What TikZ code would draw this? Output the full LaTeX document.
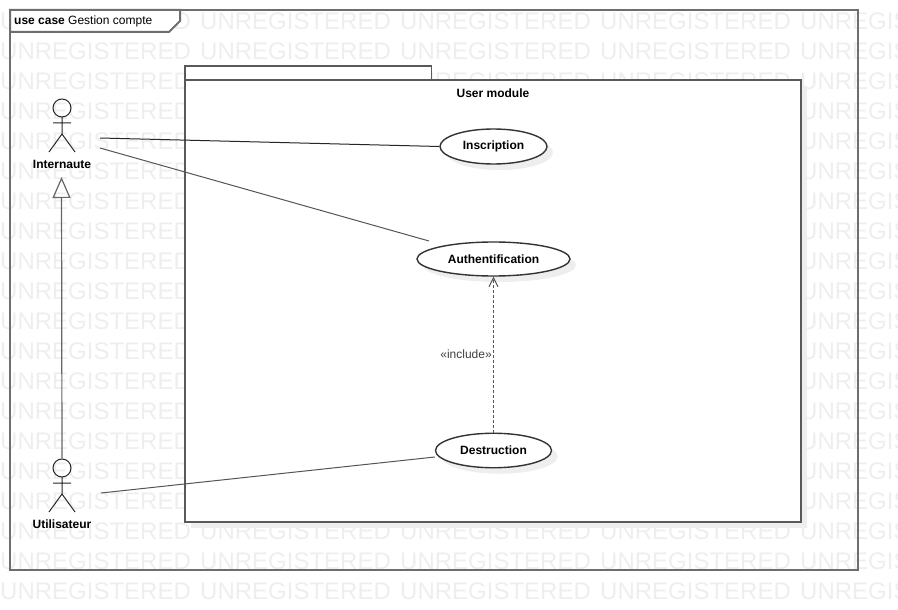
\documentclass[tikz,border=0pt]{standalone}
\usepackage{fontspec}
\setmainfont{Liberation Sans}
\usetikzlibrary{arrows.meta, shapes.geometric, shadows}
\definecolor{wmgray}{HTML}{EEEEEE}
\definecolor{fragray}{HTML}{6E6E6E}
\definecolor{lingray}{HTML}{555555}
\tikzset{%
    wat/.style={text=wmgray, font=\fontsize{24}{24}\selectfont, inner sep=0pt, anchor=west},
    fra/.style={line width=2pt, draw=fragray},
    lbl/.style={font=\fontsize{12}{14}\selectfont, inner sep=1pt},
    bol/.style={lbl, font=\fontsize{12}{14}\selectfont\bfseries},
    cas/.style={bol, ellipse, draw=black!80, line width=1.4pt, fill=white, inner sep=0pt,
        drop shadow={shadow xshift=6pt, shadow yshift=-6pt, fill=wmgray, opacity=1}},
    mod/.style={rectangle, draw=black!65, line width=2pt, fill=white, inner sep=0pt,
        drop shadow={shadow xshift=6pt, shadow yshift=-6pt, fill=wmgray, opacity=1}},
    lin/.style={line width=1pt, draw=lingray},
    dep/.style={line width=1.6pt, draw=lingray, dash pattern=on 3pt off 2pt, -{Straight Barb[length=9pt,width=9pt,line width=1pt]}},
    gen/.style={line width=1.2pt, draw=black!60, -{Triangle[open,length=21pt,width=18pt,line width=1.2pt]}},
    act/.style={line width=1pt, draw=black!85},
    actor/.pic={
        \draw [act] (0,9) -- (0,26) (-9,15) -- (9,15) (0,26) -- (-13,44) (0,26) -- (13,44);
    },
}
\begin{document}
\begin{tikzpicture}[x=1pt,y=-1pt]
    \useasboundingbox (0,0) rectangle (898,610);
    \clip (0,0) rectangle (898,610);
    % watermark
    \foreach \r in {0,...,19}
        \foreach \c in {0,...,4}
            \node [wat] (wm\r\c) at (\c*200,21+\r*30) {UNREGISTERED};
    % outer frame
    \draw [fra] (10,10) rectangle (858,570);
    \draw [fra,fill=white] (10,10) -- (180,10) -- (180,21) -- (169,32) -- (10,32) -- cycle;
    \node [lbl,anchor=west] (tag) at (13,21) {\textbf{use case} Gestion compte};
    % module
    \draw [line width=1.4pt,draw=black!65,fill=white] (185,66) rectangle (431.5,80);
    \node [mod,minimum width=616pt,minimum height=442pt] (box) at (493,301) {};
    \node [bol] (modtitle) at (493,93) {User module};
    % use cases
    \node [cas,minimum width=107pt,minimum height=35pt] (insc) at (493.5,146.5) {Inscription};
    \node [cas,minimum width=153pt,minimum height=34pt] (auth) at (493.5,259) {Authentification};
    \node [cas,minimum width=116pt,minimum height=34.5pt] (dest) at (493.5,450.5) {Destruction};
    % actors
    \node [act,circle,draw,minimum size=18pt,inner sep=0pt] (interhead) at (62,108) {};
    \pic at (62,108) {actor};
    \node [bol] (inter) at (62,164.5) {Internaute};
    \node [act,circle,draw,minimum size=18pt,inner sep=0pt] (utilhead) at (62,468) {};
    \pic at (62,468) {actor};
    \node [bol] (util) at (62,524.5) {Utilisateur};
    % connectors
    \coordinate (a1) at (100,138);
    \coordinate (a2) at (100,148);
    \coordinate (a3) at (429,241);
    \coordinate (a4) at (101,493);
    \coordinate (a5) at (61.5,177);
    \draw [lin,draw=black!85] (a1) -- (insc.west);
    \draw [lin] (a2) -- (a3);
    \draw [lin] (a4) -- (dest.west |- 0,457);
    \draw [gen] (utilhead.north) -- (a5);
    \draw [dep] (dest.north) -- node[lbl,left,text=black!75]{«include»} (auth.south);
\end{tikzpicture}
\end{document}
